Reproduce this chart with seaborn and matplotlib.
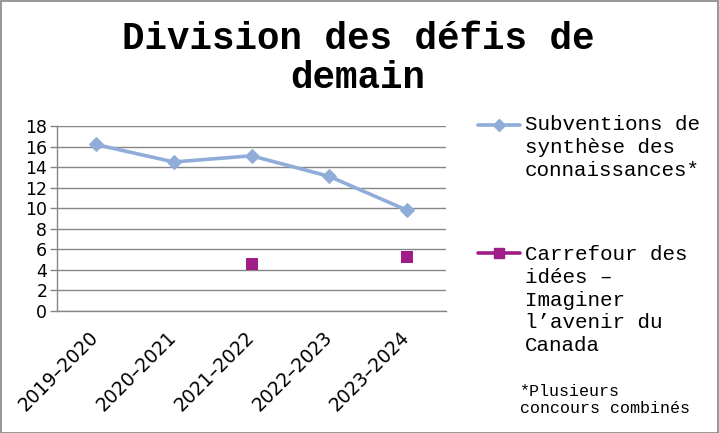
import matplotlib
matplotlib.use("Agg")
import matplotlib.pyplot as plt
import matplotlib.transforms as mtransforms
from matplotlib.lines import Line2D
from matplotlib.patches import Rectangle
import seaborn as sns
import numpy as np
import pandas as pd

# Chart data
years = ["2019–2020", "2020–2021", "2021–2022", "2022–2023", "2023–2024"]
synthese = [16.2, 14.5, 15.1, 13.1, 9.8]
carrefour = [np.nan, np.nan, 4.6, np.nan, 5.3]
y_ticks = [0, 2, 4, 6, 8, 10, 12, 14, 16, 18]

title = "Division des défis de\ndemain"
label_synthese = "Subventions de\nsynthèse des\nconnaissances*"
label_carrefour = "Carrefour des\nidées –\nImaginer\nl’avenir du\nCanada"
footnote = "*Plusieurs\nconcours combinés"

blue = "#8FADD8"
purple = "#A01C86"
grid_grey = "#868686"
mono = "Liberation Mono"

df = pd.DataFrame({"year": years, "synthese": synthese, "carrefour": carrefour})

sns.set_style("white")
plt.rcParams["font.family"] = ["DejaVu Sans"]
plt.rcParams["text.color"] = "black"
plt.rcParams["xtick.labelcolor"] = "black"
plt.rcParams["ytick.labelcolor"] = "black"

W, H = 719, 433
fig = plt.figure(figsize=(W / 100, H / 100), dpi=100)
ax = fig.add_axes([57 / W, 1 - 311 / H, (446 - 57) / W, (311 - 126) / H])

sns.lineplot(data=df, x="year", y="synthese", ax=ax, color=blue, linewidth=2.6,
             marker="D", markersize=7, markeredgecolor=blue, sort=False)
sns.scatterplot(data=df.dropna(subset=["carrefour"]), x="year", y="carrefour", ax=ax,
                color=purple, marker="s", s=70, edgecolor=purple, linewidth=0, zorder=3)

ax.set_xlim(-0.5, len(years) - 0.5)
ax.set_ylim(0, 18)
ax.set_yticks(y_ticks)
ax.set_yticklabels([str(v) for v in y_ticks], fontsize=12.5)
ax.grid(axis="y", color=grid_grey, linewidth=1)
ax.set_axisbelow(True)

# category labels at centres, tick marks at bin boundaries
ax.set_xticks(np.arange(len(years)))
ax.set_xticklabels(years, rotation=45, ha="right", rotation_mode="anchor", fontsize=13.5)
ax.set_xticks(np.arange(len(years) + 1) - 0.5, minor=True)
ax.tick_params(axis="x", which="major", length=0, pad=12, labelcolor="black")
ax.tick_params(axis="x", which="minor", length=5, color=grid_grey, width=1)
ax.tick_params(axis="y", length=5, color=grid_grey, width=1, pad=2, left=True,
               labelcolor="black")
ax.set_xlabel("")
ax.set_ylabel("")
shift = mtransforms.ScaledTranslation(-7 / 100, 0, fig.dpi_scale_trans)
for lbl in ax.get_xticklabels():
    lbl.set_transform(lbl.get_transform() + shift)

for side in ["top", "right"]:
    ax.spines[side].set_visible(False)
for side in ["left", "bottom"]:
    ax.spines[side].set_color(grid_grey)
    ax.spines[side].set_linewidth(1)


def px(x, y):
    return x / W, 1 - y / H


# title (y is the baseline of the last line)
fig.text(*px(358, 88), title, ha="center", va="baseline", fontsize=27,
         fontweight="bold", family=mono, linespacing=1.1, multialignment="center",
         color="black")

# legend drawn by hand so the handles sit on the first text line
for y0, last_base, color, marker, ms, label in [
    (125, 176, blue, "D", 6, label_synthese),
    (253, 351, purple, "s", 7, label_carrefour),
]:
    xs, ys = zip(px(478, y0), px(520, y0))
    fig.add_artist(Line2D(xs, ys, color=color, linewidth=2.6))
    fig.add_artist(Line2D([px(499, y0)[0]], [px(499, y0)[1]], color=color,
                          marker=marker, markersize=ms, linestyle=""))
    fig.text(*px(525, last_base), label, ha="left", va="baseline", fontsize=15,
             family=mono, linespacing=1.25, color="black")

fig.text(*px(520, 413), footnote, ha="left", va="baseline", fontsize=12,
         family=mono, linespacing=1.2, color="black")

# outer frame
fig.add_artist(Rectangle((0.5 / W, 0.5 / H), 1 - 1.5 / W, 1 - 1.5 / H,
                         transform=fig.transFigure, fill=False,
                         edgecolor=grid_grey, linewidth=1.2))

fig.savefig("out.png", dpi=100)
